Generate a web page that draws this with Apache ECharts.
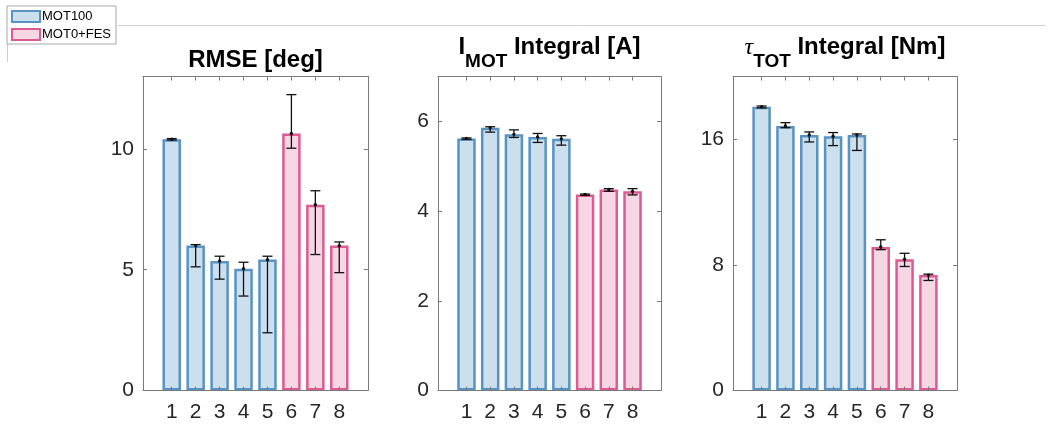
<!DOCTYPE html>
<html>
<head>
<meta charset="utf-8">
<script src="https://cdn.jsdelivr.net/npm/echarts/dist/echarts.min.js"></script>
<style>
  html, body { margin: 0; padding: 0; background: #fff; }
  #chart { width: 1048px; height: 432px; }
</style>
</head>
<body>
<div id="chart"></div>
<script>
// Conditions on the x axis and the group each one belongs to
const conditions = [1, 2, 3, 4, 5, 6, 7, 8];
const conditionGroup = ['MOT100', 'MOT100', 'MOT100', 'MOT100', 'MOT100', 'MOT0+FES', 'MOT0+FES', 'MOT0+FES'];
const groupNames = ['MOT100', 'MOT0+FES'];

// RMSE [deg]
const rmseMean = [10.40, 6.00, 5.36, 5.04, 5.42, 10.64, 7.69, 6.00];
const rmseLow  = [10.37, 5.12, 4.61, 3.91, 2.39, 10.03, 5.63, 4.88];
const rmseHigh = [10.43, 6.04, 5.56, 5.31, 5.56, 12.25, 8.27, 6.15];
const rmseTicks = [0, 5, 10];

// I_MOT integral [A]
const imotMean = [5.62, 5.86, 5.71, 5.65, 5.61, 4.37, 4.48, 4.44];
const imotLow  = [5.60, 5.76, 5.64, 5.53, 5.47, 4.35, 4.44, 4.36];
const imotHigh = [5.63, 5.88, 5.81, 5.73, 5.68, 4.38, 4.50, 4.50];
const imotTicks = [0, 2, 4, 6];

// tau_TOT integral [Nm]
const tauMean = [18.07, 16.85, 16.28, 16.19, 16.28, 9.14, 8.36, 7.35];
const tauLow  = [18.00, 16.74, 15.83, 15.60, 15.29, 8.97, 7.90, 7.01];
const tauHigh = [18.12, 17.06, 16.47, 16.43, 16.34, 9.60, 8.74, 7.41];
const tauTicks = [0, 8, 16];

const W = 1048, H = 432;
const groupStyle = {
  'MOT100':   { fill: '#cbdfed', edge: '#5893c4' },
  'MOT0+FES': { fill: '#f6d6e3', edge: '#dc5b92' }
};
const axisColor = '#7a7a7a';
const textColor = '#262626';

const panels = [
  { left: 143, width: 225, yMax: 13, ticks: rmseTicks, mean: rmseMean, low: rmseLow, high: rmseHigh },
  { left: 438, width: 223, yMax: 7,  ticks: imotTicks, mean: imotMean, low: imotLow, high: imotHigh },
  { left: 733, width: 224, yMax: 20, ticks: tauTicks,  mean: tauMean,  low: tauLow,  high: tauHigh }
];
const gridTop = 76.5, gridBottom = 41.5;

const grid = [], xAxis = [], yAxis = [], series = [];

function renderErr(params, api) {
  const x = api.value(0);
  const lo = api.coord([x, api.value(1)]);
  const hi = api.coord([x, api.value(2)]);
  const mid = api.coord([x, api.value(3)]);
  const cap = 5;
  const st = { stroke: '#111', lineWidth: 1.3 };
  return {
    type: 'group',
    children: [
      { type: 'line', shape: { x1: lo[0], y1: lo[1], x2: hi[0], y2: hi[1] }, style: st },
      { type: 'line', shape: { x1: lo[0] - cap, y1: lo[1], x2: lo[0] + cap, y2: lo[1] }, style: st },
      { type: 'line', shape: { x1: hi[0] - cap, y1: hi[1], x2: hi[0] + cap, y2: hi[1] }, style: st },
      { type: 'circle', shape: { cx: mid[0], cy: mid[1], r: 1.7 }, style: { fill: '#111' } }
    ]
  };
}

panels.forEach((p, i) => {
  grid.push({ left: p.left, width: p.width, top: gridTop, bottom: gridBottom });
  const xBase = {
    type: 'value', gridIndex: i, min: -0.2, max: 9.2, z: 3,
    axisLine: { show: true, onZero: false, lineStyle: { color: axisColor, width: 1 } },
    splitLine: { show: false },
    axisTick: { show: true, inside: true, length: 4, customValues: conditions, lineStyle: { color: axisColor } }
  };
  xAxis.push(Object.assign({}, xBase, {
    position: 'bottom',
    axisLabel: { show: true, customValues: conditions, margin: 11, fontSize: 21, color: textColor, fontFamily: 'Liberation Sans' }
  }));
  xAxis.push(Object.assign({}, xBase, { position: 'top', axisLabel: { show: false } }));

  const yBase = {
    type: 'value', gridIndex: i, min: 0, max: p.yMax, z: 3,
    axisLine: { show: true, onZero: false, lineStyle: { color: axisColor, width: 1 } },
    splitLine: { show: false },
    axisTick: { show: true, inside: true, length: 4, customValues: p.ticks, lineStyle: { color: axisColor } }
  };
  yAxis.push(Object.assign({}, yBase, {
    position: 'left',
    axisLabel: { show: true, customValues: p.ticks, margin: 9, fontSize: 21, color: textColor, fontFamily: 'Liberation Sans' }
  }));
  yAxis.push(Object.assign({}, yBase, { position: 'right', axisLabel: { show: false } }));

  groupNames.forEach(g => {
    const data = [];
    conditions.forEach((c, k) => { if (conditionGroup[k] === g) data.push([c, p.mean[k]]); });
    series.push({
      name: g, type: 'bar', xAxisIndex: 2 * i, yAxisIndex: 2 * i,
      barWidth: 18.5, barGap: '-100%', z: 2,
      itemStyle: { color: groupStyle[g].fill, borderColor: groupStyle[g].edge, borderWidth: 2.5 },
      emphasis: { disabled: true },
      data: data
    });
  });

  series.push({
    type: 'custom', xAxisIndex: 2 * i, yAxisIndex: 2 * i, z: 4,
    renderItem: renderErr,
    encode: { x: 0, y: [1, 2] },
    data: conditions.map((c, k) => [c, p.low[k], p.high[k], p.mean[k]])
  });
});

// Panel titles (main text plus optional subscript)
const titleRich = {
  m: { fontSize: 24, lineHeight: 24, fontWeight: 'bold', fontFamily: 'Liberation Sans', color: '#000', verticalAlign: 'top' },
  g: { fontSize: 24, lineHeight: 24, fontStyle: 'italic', fontFamily: 'Liberation Serif', color: '#000', verticalAlign: 'top' },
  s: { fontSize: 19, lineHeight: 19, fontWeight: 'bold', fontFamily: 'Liberation Sans', color: '#000', verticalAlign: 'top', padding: [17, 0, 0, 0] }
};
const titles = [
  { text: '{m|RMSE [deg]}', top: 47.9 },
  { text: '{m|I}{s|MOT}{m| Integral [A]}', top: 35.5 },
  { text: '{g|τ}{s|TOT}{m| Integral [Nm]}', top: 35.5 }
];
const graphic = titles.map((t, i) => ({
  type: 'text',
  x: panels[i].left + panels[i].width / 2,
  y: t.top,
  style: { text: t.text, rich: titleRich, align: 'center', verticalAlign: 'top' }
}));
// frame lines around the legend corner
graphic.push({ type: 'line', shape: { x1: 118, y1: 25.5, x2: 1045, y2: 25.5 }, style: { stroke: '#cfcfcf', lineWidth: 1 } });
graphic.push({ type: 'line', shape: { x1: 7.5, y1: 43, x2: 7.5, y2: 62 }, style: { stroke: '#cfcfcf', lineWidth: 1 } });

const chart = echarts.init(document.getElementById('chart'), null, { renderer: 'canvas', width: W, height: H });
chart.setOption({
  animation: false,
  backgroundColor: '#fff',
  grid, xAxis, yAxis, series, graphic,
  legend: {
    data: groupNames,
    orient: 'vertical',
    left: 7, top: 6,
    padding: [4, 5, 3, 4],
    itemGap: 5,
    itemWidth: 28, itemHeight: 11,
    icon: 'rect',
    selectedMode: false,
    backgroundColor: '#fff',
    borderColor: '#a8a8a8', borderWidth: 1, borderRadius: 0,
    textStyle: { fontSize: 13, color: '#000', fontFamily: 'Liberation Sans', padding: [0, 0, 0, -3] },
    itemStyle: { borderWidth: 2 }
  }
});
</script>
</body>
</html>
